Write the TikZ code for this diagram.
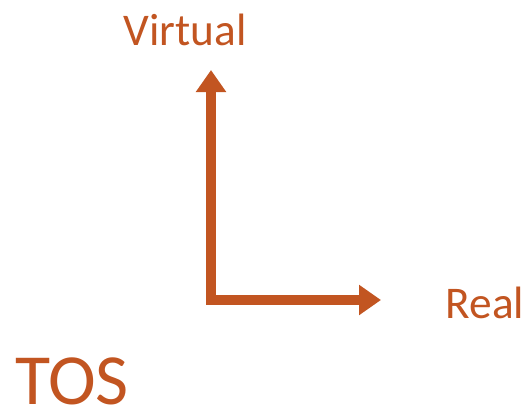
\documentclass[tikz,border=0pt]{standalone}
\usepackage{fontspec}
\setmainfont{Carlito}
\usetikzlibrary{arrows.meta}
\definecolor{rust}{RGB}{194,85,33}

\begin{document}
\begin{tikzpicture}[x=0.75pt, y=-0.75pt,
    axis/.style={draw=rust, line width=7.5pt, line join=miter,
      {Triangle[length=16.5pt, width=21.75pt]}-{Triangle[length=16.5pt, width=21.75pt]}},
    lbl/.style={text=rust, font=\fontsize{34}{40}\selectfont, inner sep=0pt},
    big/.style={text=rust, font=\fontsize{54}{60}\selectfont, inner sep=0pt}]

   \useasboundingbox (0,0) rectangle (531,411);

   \coordinate (o) at (211,300);
   \coordinate (up) at (211,70);
   \coordinate (right) at (381,300);

   \draw [axis] (up) -- (o) -- (right);

   \node [lbl] (virtual) at (185,30) {Virtual};
   \node [lbl] (real) at (485,303) {Real};
   \node [big] (tos) at (72,381) {TOS};

\end{tikzpicture}
\end{document}
